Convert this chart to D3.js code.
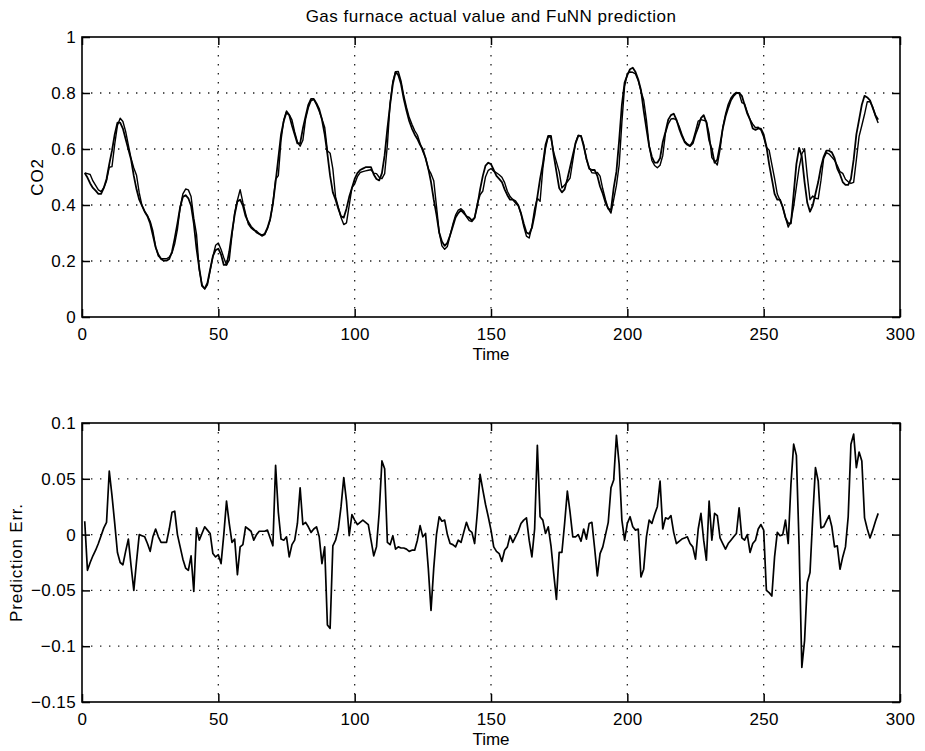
<!DOCTYPE html>
<html><head><meta charset="utf-8">
<script src="https://cdn.jsdelivr.net/npm/d3@7"></script>
<style>body{margin:0;background:#fff}svg text{font-family:"Liberation Sans",Arial,Helvetica,sans-serif;fill:#000}</style>
</head><body><svg id="c" width="925" height="751"></svg>
<script>
// ---------------- DATA ----------------
const chartTitle = "Gas furnace actual value and FuNN prediction";
const xTicks = [0, 50, 100, 150, 200, 250, 300];
const co2Ticks = [0, 0.2, 0.4, 0.6, 0.8, 1];
const errTicks = [-0.15, -0.1, -0.05, 0, 0.05, 0.1];

// time index of each sample (1..292)
const timeSteps = d3.range(1, 293);

// actual (normalised) CO2 value
const co2Actual = [
0.514,0.498,0.477,0.461,0.451,0.440,0.440,0.461,0.493,0.546,
0.594,0.652,0.694,0.694,0.673,0.636,0.599,0.562,0.504,0.456,
0.419,0.398,0.376,0.360,0.334,0.292,0.249,0.223,0.207,0.201,
0.201,0.207,0.233,0.281,0.334,0.392,0.429,0.435,0.424,0.398,
0.334,0.244,0.175,0.111,0.101,0.122,0.170,0.217,0.239,0.244,
0.223,0.186,0.186,0.233,0.302,0.366,0.413,0.419,0.398,0.360,
0.339,0.323,0.313,0.302,0.297,0.292,0.297,0.318,0.350,0.403,
0.482,0.567,0.652,0.700,0.731,0.721,0.684,0.652,0.620,0.620,
0.673,0.716,0.758,0.779,0.779,0.763,0.742,0.705,0.652,0.583,
0.504,0.445,0.419,0.387,0.360,0.355,0.387,0.429,0.461,0.493,
0.514,0.525,0.530,0.535,0.535,0.535,0.509,0.493,0.488,0.514,
0.578,0.673,0.758,0.832,0.875,0.864,0.832,0.779,0.737,0.700,
0.673,0.652,0.636,0.615,0.599,0.567,0.530,0.482,0.419,0.366,
0.302,0.270,0.254,0.265,0.292,0.323,0.355,0.371,0.382,0.371,
0.360,0.355,0.345,0.355,0.398,0.456,0.504,0.541,0.551,0.546,
0.525,0.504,0.493,0.482,0.456,0.435,0.419,0.419,0.408,0.398,
0.371,0.334,0.302,0.297,0.318,0.366,0.429,0.493,0.546,0.615,
0.647,0.647,0.578,0.519,0.461,0.445,0.456,0.493,0.535,0.578,
0.620,0.647,0.647,0.610,0.567,0.530,0.525,0.525,0.504,0.466,
0.440,0.408,0.387,0.382,0.461,0.519,0.631,0.758,0.837,0.864,
0.885,0.890,0.875,0.848,0.811,0.737,0.673,0.610,0.572,0.551,
0.551,0.567,0.625,0.662,0.705,0.721,0.726,0.705,0.673,0.647,
0.625,0.615,0.610,0.620,0.652,0.678,0.710,0.721,0.694,0.631,
0.599,0.551,0.562,0.615,0.673,0.716,0.747,0.774,0.790,0.800,
0.800,0.790,0.758,0.726,0.705,0.673,0.668,0.673,0.673,0.652,
0.610,0.546,0.493,0.440,0.419,0.419,0.392,0.355,0.334,0.334,
0.440,0.546,0.604,0.572,0.482,0.408,0.376,0.398,0.440,0.482,
0.535,0.572,0.594,0.594,0.588,0.567,0.530,0.509,0.482,0.472,
0.472,0.493,0.562,0.652,0.705,0.758,0.790,0.784,0.774,0.747,
0.721,0.705];

// FuNN prediction
const co2Predicted = [
0.515,0.512,0.509,0.486,0.470,0.454,0.448,0.462,0.487,0.535,
0.537,0.617,0.684,0.710,0.698,0.663,0.614,0.566,0.532,0.506,
0.443,0.398,0.377,0.362,0.342,0.307,0.251,0.218,0.209,0.208,
0.208,0.214,0.228,0.261,0.313,0.392,0.440,0.457,0.454,0.430,
0.353,0.295,0.169,0.116,0.100,0.115,0.166,0.216,0.256,0.264,
0.241,0.212,0.186,0.203,0.292,0.373,0.417,0.455,0.409,0.369,
0.332,0.318,0.310,0.307,0.297,0.289,0.294,0.315,0.346,0.406,
0.492,0.505,0.632,0.704,0.736,0.723,0.704,0.661,0.625,0.610,
0.631,0.707,0.747,0.772,0.777,0.758,0.735,0.707,0.678,0.594,
0.585,0.529,0.429,0.392,0.355,0.330,0.336,0.399,0.462,0.475,
0.501,0.516,0.519,0.522,0.524,0.526,0.514,0.512,0.499,0.494,
0.512,0.614,0.765,0.841,0.876,0.877,0.843,0.791,0.749,0.713,
0.688,0.666,0.650,0.620,0.591,0.569,0.529,0.512,0.487,0.396,
0.302,0.254,0.242,0.252,0.292,0.331,0.364,0.382,0.387,0.378,
0.358,0.344,0.341,0.353,0.406,0.436,0.450,0.501,0.524,0.530,
0.521,0.515,0.508,0.499,0.480,0.449,0.430,0.420,0.415,0.400,
0.368,0.324,0.289,0.282,0.323,0.386,0.424,0.413,0.530,0.602,
0.646,0.640,0.588,0.554,0.519,0.461,0.472,0.483,0.496,0.558,
0.622,0.649,0.647,0.616,0.562,0.534,0.515,0.514,0.516,0.503,
0.457,0.419,0.387,0.371,0.419,0.470,0.542,0.695,0.824,0.869,
0.875,0.874,0.868,0.844,0.806,0.775,0.704,0.612,0.559,0.541,
0.533,0.542,0.577,0.657,0.690,0.707,0.709,0.703,0.681,0.653,
0.629,0.618,0.612,0.628,0.663,0.700,0.705,0.702,0.699,0.654,
0.569,0.556,0.543,0.598,0.676,0.724,0.760,0.782,0.795,0.802,
0.799,0.766,0.761,0.731,0.705,0.689,0.676,0.678,0.668,0.643,
0.606,0.596,0.545,0.495,0.439,0.417,0.393,0.355,0.321,0.342,
0.395,0.465,0.533,0.582,0.601,0.503,0.419,0.432,0.424,0.422,
0.487,0.566,0.587,0.582,0.571,0.560,0.541,0.519,0.513,0.492,
0.483,0.477,0.481,0.562,0.645,0.684,0.724,0.769,0.769,0.750,
0.717,0.693];

// prediction error
const predError = [
0.012,-0.032,-0.025,-0.019,-0.014,-0.008,-0.001,0.006,0.011,0.057,
0.035,0.010,-0.016,-0.025,-0.027,-0.015,-0.004,-0.028,-0.050,-0.024,
0.000,-0.001,-0.002,-0.008,-0.015,-0.002,0.005,-0.002,-0.007,-0.007,
-0.007,0.005,0.020,0.021,0.000,-0.011,-0.022,-0.030,-0.032,-0.019,
-0.051,0.006,-0.005,0.001,0.007,0.004,0.001,-0.017,-0.020,-0.018,
-0.026,0.000,0.030,0.010,-0.007,-0.004,-0.036,-0.011,-0.009,0.007,
0.005,0.003,-0.005,0.000,0.003,0.003,0.003,0.004,-0.003,-0.010,
0.062,0.020,-0.004,-0.005,-0.002,-0.020,-0.009,-0.005,0.010,0.042,
0.009,0.011,0.007,0.002,0.005,0.007,-0.002,-0.026,-0.011,-0.081,
-0.084,-0.010,-0.005,0.005,0.025,0.051,0.030,-0.001,0.018,0.013,
0.009,0.011,0.013,0.011,0.009,-0.005,-0.019,-0.011,0.020,0.066,
0.059,-0.007,-0.009,-0.001,-0.013,-0.011,-0.012,-0.012,-0.013,-0.015,
-0.014,-0.014,-0.005,0.008,-0.002,0.001,-0.030,-0.068,-0.030,0.000,
0.016,0.012,0.013,0.000,-0.008,-0.009,-0.011,-0.005,-0.007,0.002,
0.011,0.004,0.002,-0.008,0.020,0.054,0.040,0.027,0.016,0.004,
-0.011,-0.015,-0.017,-0.024,-0.014,-0.011,-0.001,-0.007,-0.002,0.003,
0.010,0.013,0.015,-0.005,-0.020,0.005,0.080,0.016,0.013,0.001,
0.007,-0.010,-0.035,-0.058,-0.016,-0.016,0.010,0.039,0.020,-0.002,
-0.002,0.000,-0.006,0.005,-0.004,0.010,0.011,-0.012,-0.037,-0.017,
-0.011,0.000,0.011,0.042,0.049,0.089,0.063,0.013,-0.005,0.010,
0.016,0.007,0.004,0.005,-0.038,-0.031,-0.002,0.013,0.010,0.018,
0.025,0.048,0.005,0.015,0.014,0.017,0.002,-0.008,-0.006,-0.004,
-0.003,-0.002,-0.008,-0.011,-0.022,0.005,0.019,-0.005,-0.023,0.030,
-0.005,0.019,0.017,-0.003,-0.008,-0.013,-0.008,-0.005,-0.002,0.001,
0.024,-0.003,-0.005,0.000,-0.016,-0.008,-0.005,0.005,0.009,0.004,
-0.050,-0.052,-0.055,-0.020,0.002,-0.001,0.000,0.013,-0.008,0.045,
0.081,0.071,-0.010,-0.119,-0.095,-0.043,-0.034,0.016,0.060,0.048,
0.006,0.007,0.012,0.017,0.007,-0.011,-0.010,-0.031,-0.020,-0.011,
0.016,0.081,0.090,0.060,0.074,0.066,0.015,0.005,-0.003,0.004,
0.012,0.019];

// ---------------- DRAWING ----------------
const svg = d3.select("#c");
const FONT = 17;
const L = 82, R = 900;

svg.append("text").attr("x", (L + R) / 2).attr("y", 22)
  .attr("text-anchor", "middle").style("font-size", "17px").style("letter-spacing", "0.5px").text(chartTitle);

function fmt(v) {
  const s = (Math.round(v * 1000) / 1000).toString();
  return s.replace("-", "\u2212");
}

function panel(top, bottom, yDomain, yTicks, yLabel, yLabelX, series) {
  const x = d3.scaleLinear().domain([0, 300]).range([L, R]);
  const y = d3.scaleLinear().domain(yDomain).range([bottom, top]);
  const g = svg.append("g");

  // dotted grid
  g.append("g").selectAll("line").data(xTicks.filter(t => t > 0 && t < 300)).join("line")
    .attr("x1", d => x(d)).attr("x2", d => x(d)).attr("y1", top).attr("y2", bottom)
    .attr("stroke", "#222").attr("stroke-width", 1.3).attr("stroke-dasharray", "1.4,7.6");
  g.append("g").selectAll("line").data(yTicks.filter(t => t > yDomain[0] && t < yDomain[1])).join("line")
    .attr("x1", L).attr("x2", R).attr("y1", d => y(d)).attr("y2", d => y(d))
    .attr("stroke", "#222").attr("stroke-width", 1.3).attr("stroke-dasharray", "1.4,7.6");

  // axes with inward ticks
  const ax = (gen, tr, labels) => {
    const a = g.append("g").attr("transform", tr).call(gen);
    a.select(".domain").remove();
    a.selectAll(".tick line").attr("stroke", "#000").attr("stroke-width", 1.5);
    a.selectAll("text").style("font-size", FONT + "px").style("letter-spacing", "0.4px")
      .style("font-family", '"Liberation Sans",Arial,sans-serif').attr("fill", "#000");
    if (!labels) a.selectAll("text").remove();
    return a;
  };
  ax(d3.axisBottom(x).tickValues(xTicks).tickSizeInner(-8).tickSizeOuter(0).tickPadding(11).tickFormat(d3.format("d")),
     `translate(0,${bottom})`, true);
  ax(d3.axisTop(x).tickValues(xTicks).tickSizeInner(-8).tickSizeOuter(0), `translate(0,${top})`, false);
  ax(d3.axisLeft(y).tickValues(yTicks).tickSizeInner(-8).tickSizeOuter(0).tickPadding(6).tickFormat(fmt),
     `translate(${L},0)`, true);
  ax(d3.axisRight(y).tickValues(yTicks).tickSizeInner(-8).tickSizeOuter(0), `translate(${R},0)`, false);

  // series
  series.forEach(s => {
    const line = d3.line().x((d, i) => x(timeSteps[i])).y(d => y(d));
    g.append("path").datum(s.values).attr("d", line).attr("fill", "none")
      .attr("stroke", "#000").attr("stroke-width", s.w).attr("stroke-linejoin", "round");
  });

  // box
  g.append("rect").attr("x", L).attr("y", top).attr("width", R - L).attr("height", bottom - top)
    .attr("fill", "none").attr("stroke", "#000").attr("stroke-width", 1.6);

  // labels
  g.append("text").attr("x", (L + R) / 2).attr("y", bottom + 43).attr("text-anchor", "middle")
    .style("font-size", FONT + "px").text("Time");
  g.append("text").attr("transform", `translate(${yLabelX},${(top + bottom) / 2}) rotate(-90)`)
    .attr("text-anchor", "middle").attr("dy", "0.35em").style("font-size", FONT + "px")
    .style("letter-spacing", "0.8px").text(yLabel);
}

panel(37, 317, [0, 1], co2Ticks, "CO2", 37,
  [{ values: co2Predicted, w: 1.4 }, { values: co2Actual, w: 1.8 }]);
panel(423, 702, [-0.15, 0.1], errTicks, "Prediction Err.", 16,
  [{ values: predError, w: 1.7 }]);
</script></body></html>
